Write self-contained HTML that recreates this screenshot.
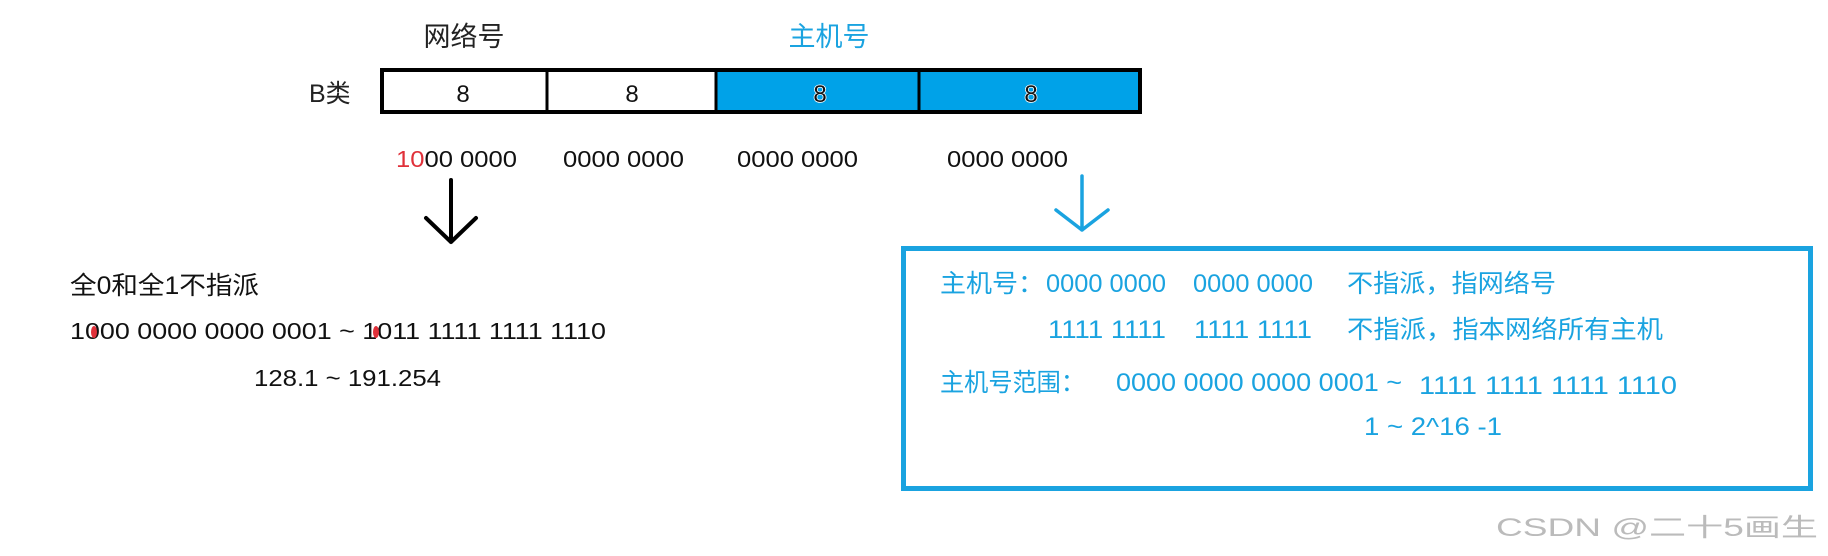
<!DOCTYPE html>
<html><head><meta charset="utf-8"><style>
html,body{margin:0;padding:0;background:#fff;}
svg{display:block;}
text{font-family:"Liberation Sans","Noto Sans CJK SC",sans-serif;}
</style></head><body>
<svg width="1828" height="556" viewBox="0 0 1828 556" xmlns="http://www.w3.org/2000/svg">
<rect width="1828" height="556" fill="#fff"/>
<!-- headers -->
<text x="464" y="46" font-size="27" text-anchor="middle" fill="#222">网络号</text>
<text x="829" y="46" font-size="27" text-anchor="middle" fill="#1aa3e0">主机号</text>
<text x="309" y="102" font-size="25" fill="#222">B类</text>
<!-- table -->
<rect x="716" y="68" width="426" height="46" fill="#00a2e8"/>
<rect x="382" y="70" width="758" height="42" fill="none" stroke="#000" stroke-width="4"/>
<line x1="547" y1="70" x2="547" y2="112" stroke="#000" stroke-width="3"/>
<line x1="716" y1="70" x2="716" y2="112" stroke="#000" stroke-width="3"/>
<line x1="919" y1="70" x2="919" y2="112" stroke="#000" stroke-width="3"/>
<text x="463" y="102" font-size="24" text-anchor="middle" fill="#111">8</text>
<text x="632" y="102" font-size="24" text-anchor="middle" fill="#111">8</text>
<text x="820" y="102" font-size="24" text-anchor="middle" fill="#111" stroke="#fff" stroke-width="1.5" paint-order="stroke">8</text>
<text x="1031" y="102" font-size="24" text-anchor="middle" fill="#111" stroke="#fff" stroke-width="1.5" paint-order="stroke">8</text>
<!-- bits -->
<text x="396" y="167" font-size="23" fill="#111" textLength="121" lengthAdjust="spacingAndGlyphs"><tspan fill="#e0313a">10</tspan>00 0000</text>
<text x="563" y="167" font-size="23" fill="#111" textLength="121" lengthAdjust="spacingAndGlyphs">0000 0000</text>
<text x="737" y="167" font-size="23" fill="#111" textLength="121" lengthAdjust="spacingAndGlyphs">0000 0000</text>
<text x="947" y="167" font-size="23" fill="#111" textLength="121" lengthAdjust="spacingAndGlyphs">0000 0000</text>
<!-- arrows -->
<path d="M451 180 L451 242 M426 218 L451 242 L476 218" fill="none" stroke="#000" stroke-width="4" stroke-linecap="round" stroke-linejoin="round"/>
<path d="M1082 176 L1082 230 M1056 210 L1082 230 L1108 210" fill="none" stroke="#1aa3e0" stroke-width="3.5" stroke-linecap="round" stroke-linejoin="round"/>
<!-- left texts -->
<text x="70" y="294" font-size="25" fill="#111" textLength="189" lengthAdjust="spacingAndGlyphs">全0和全1不指派</text>
<text x="70" y="339" font-size="23" fill="#111" textLength="536" lengthAdjust="spacingAndGlyphs">1000 0000 0000 0001 ~ 1011 1111 1111 1110</text>
<ellipse cx="94" cy="332" rx="3" ry="6" fill="#e0313a"/>
<ellipse cx="376" cy="332" rx="3" ry="6" fill="#e0313a"/>
<text x="254" y="386" font-size="23" fill="#111" textLength="187" lengthAdjust="spacingAndGlyphs">128.1 ~ 191.254</text>
<!-- blue box -->
<rect x="903.5" y="248.5" width="907" height="240" fill="none" stroke="#1aa3e0" stroke-width="5"/>
<g fill="#1aa3e0" font-size="25">
<text x="940" y="292" textLength="104" lengthAdjust="spacingAndGlyphs">主机号：</text>
<text x="1046" y="292" textLength="120" lengthAdjust="spacingAndGlyphs">0000 0000</text>
<text x="1193" y="292" textLength="120" lengthAdjust="spacingAndGlyphs">0000 0000</text>
<text x="1347" y="292" textLength="209" lengthAdjust="spacingAndGlyphs">不指派，指网络号</text>
<text x="1048" y="338" textLength="118" lengthAdjust="spacingAndGlyphs">1111 1111</text>
<text x="1194" y="338" textLength="118" lengthAdjust="spacingAndGlyphs">1111 1111</text>
<text x="1347" y="338" textLength="316" lengthAdjust="spacingAndGlyphs">不指派，指本网络所有主机</text>
<text x="940" y="391" textLength="145" lengthAdjust="spacingAndGlyphs">主机号范围：</text>
<text x="1116" y="391" textLength="286" lengthAdjust="spacingAndGlyphs">0000 0000  0000 0001 ~</text>
<text x="1419" y="394" textLength="258" lengthAdjust="spacingAndGlyphs">1111 1111  1111 1110</text>
<text x="1364" y="435" textLength="138" lengthAdjust="spacingAndGlyphs">1 ~ 2^16 -1</text>
</g>
<text x="1496" y="536" font-size="25" fill="#bbb" textLength="322" lengthAdjust="spacingAndGlyphs">CSDN @二十5画生</text>
</svg>
</body></html>
